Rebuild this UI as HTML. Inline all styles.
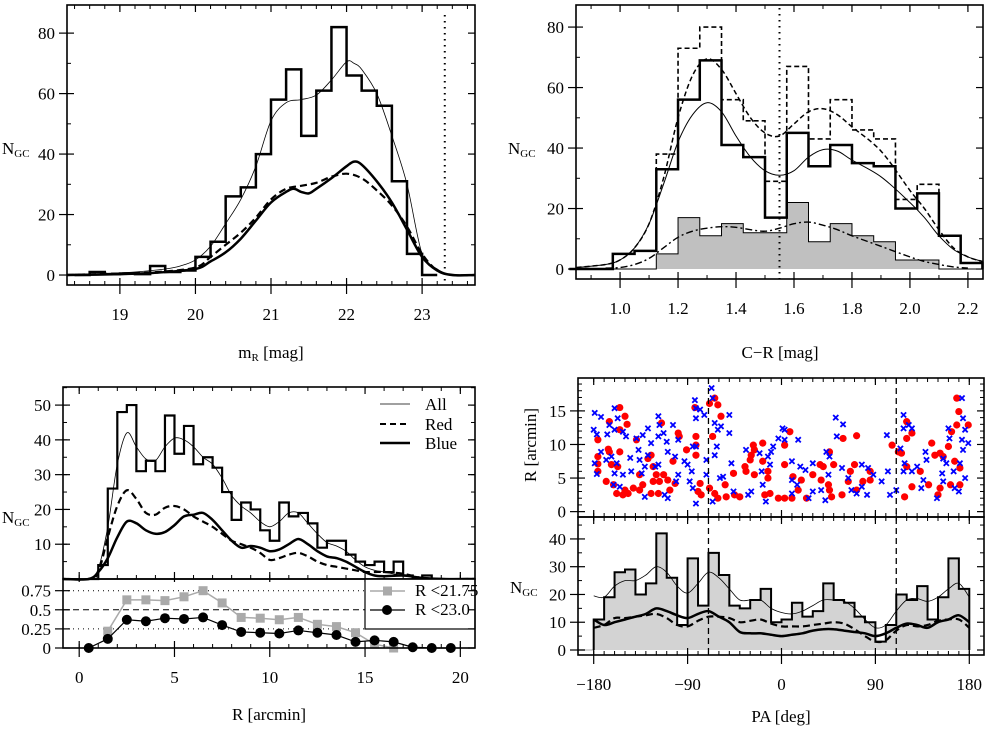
<!DOCTYPE html>
<html><head><meta charset="utf-8">
<style>
html,body{margin:0;padding:0;background:#fff;}
svg text{font-family:"Liberation Serif",serif;font-size:17px;fill:#000;}
</style></head>
<body>
<svg id="fig" width="985" height="728" viewBox="0 0 985 728" xmlns="http://www.w3.org/2000/svg">
<rect width="985" height="728" fill="#fff"/>
<text x="2" y="154">N<tspan font-size="11" dy="3">GC</tspan></text>
<text x="271" y="358" text-anchor="middle">m<tspan font-size="11" dy="3">R</tspan><tspan dy="-3"> [mag]</tspan></text>
<text x="508" y="154">N<tspan font-size="11" dy="3">GC</tspan></text>
<text x="780" y="358" text-anchor="middle">C−R [mag]</text>
<text x="2" y="523">N<tspan font-size="11" dy="3">GC</tspan></text>
<text x="269" y="720" text-anchor="middle">R [arcmin]</text>
<text x="0" y="0" text-anchor="middle" transform="translate(536,445) rotate(-90)">R [arcmin]</text>
<text x="510" y="593">N<tspan font-size="11" dy="3">GC</tspan></text>
<text x="781" y="722" text-anchor="middle">PA [deg]</text>
<g>
<line x1="380" y1="404" x2="410" y2="404" stroke="#000" stroke-width="0.8"/>
<text x="425" y="410">All</text>
<line x1="380" y1="424" x2="410" y2="424" stroke="#000" stroke-width="2" stroke-dasharray="6,4"/>
<text x="425" y="430">Red</text>
<line x1="380" y1="443" x2="410" y2="443" stroke="#000" stroke-width="2.5"/>
<text x="425" y="449">Blue</text>
</g>
</svg>
<script>
var svg=document.getElementById('fig');
var NS='http://www.w3.org/2000/svg';
function nm(el,n){


}
function add(tag,attrs,parent){var e=document.createElementNS(NS,tag);for(var k in attrs)e.setAttribute(k,attrs[k]);(parent||svg).appendChild(e);return e;}
function catmull(p){if(p.length<2)return '';var d='M'+p[0][0].toFixed(1)+','+p[0][1].toFixed(1);for(var i=0;i<p.length-1;i++){var p0=p[i-1]||p[i],p1=p[i],p2=p[i+1],p3=p[i+2]||p2;var c1x=p1[0]+(p2[0]-p0[0])/6,c1y=p1[1]+(p2[1]-p0[1])/6,c2x=p2[0]-(p3[0]-p1[0])/6,c2y=p2[1]-(p3[1]-p1[1])/6;d+=' C'+c1x.toFixed(1)+','+c1y.toFixed(1)+' '+c2x.toFixed(1)+','+c2y.toFixed(1)+' '+p2[0].toFixed(1)+','+p2[1].toFixed(1);}return d;}
function axis(px0,px1,py0,py1,xmin,xmax,ymin,ymax){return {px0:px0,px1:px1,py0:py0,py1:py1,sx:function(v){return px0+(v-xmin)/(xmax-xmin)*(px1-px0);},sy:function(v){return py0-(v-ymin)/(ymax-ymin)*(py0-py1);}};}
function curve(ax,xs,ys,style,name){var p=xs.map(function(x,i){return [ax.sx(x),ax.sy(ys[i])];});var e=add('path',Object.assign({d:catmull(p),fill:'none',stroke:'#000'},style));nm(e,name);return e;}
function hist(ax,edges,vals,style,name){var d='M'+ax.sx(edges[0])+','+ax.sy(0);for(var i=0;i<vals.length;i++){d+=' L'+ax.sx(edges[i])+','+ax.sy(vals[i])+' L'+ax.sx(edges[i+1])+','+ax.sy(vals[i]);}d+=' L'+ax.sx(edges[vals.length])+','+ax.sy(0);var e=add('path',Object.assign({d:d,stroke:'#000'},style));nm(e,name);return e;}
function edgesFrom(start,w,n){var r=[];for(var i=0;i<=n;i++)r.push(start+w*i);return r;}
function frame(ax,name){var e=add('rect',{x:ax.px0,y:ax.py1,width:ax.px1-ax.px0,height:ax.py0-ax.py1,fill:'none',stroke:'#000','stroke-width':1.6});nm(e,name);}
function xticks(ax,ticks,minor,labels,name,showLab,top){
ticks.forEach(function(t,i){var x=ax.sx(t);var e=add('line',{x1:x,x2:x,y1:ax.py0-7,y2:ax.py0+(showLab?9:3),stroke:'#000','stroke-width':1.2});nm(e,name+'-major-tick');
if(top!==false){var e2=add('line',{x1:x,x2:x,y1:ax.py1,y2:ax.py1+7,stroke:'#000','stroke-width':1.2});nm(e2,name+'-top-tick');}
if(showLab){var tx=add('text',{x:x,y:ax.py0+35,'text-anchor':'middle'});tx.textContent=labels[i];nm(tx,name+'-tick-label');}});
minor.forEach(function(t){var x=ax.sx(t);var e=add('line',{x1:x,x2:x,y1:ax.py0-4,y2:ax.py0,stroke:'#000','stroke-width':1});nm(e,name+'-minor-tick');if(top!==false){var e2=add('line',{x1:x,x2:x,y1:ax.py1,y2:ax.py1+4,stroke:'#000','stroke-width':1});nm(e2,name+'-top-minor-tick');}});}
function yticks(ax,ticks,minor,labels,name){
ticks.forEach(function(t,i){var y=ax.sy(t);var e=add('line',{x1:ax.px0-8,x2:ax.px0+7,y1:y,y2:y,stroke:'#000','stroke-width':1.2});nm(e,name+'-major-tick');var e2=add('line',{x1:ax.px1-7,x2:ax.px1,y1:y,y2:y,stroke:'#000','stroke-width':1.2});nm(e2,name+'-right-tick');
var tx=add('text',{x:ax.px0-12,y:y+6,'text-anchor':'end'});tx.textContent=labels[i];nm(tx,name+'-tick-label');});
minor.forEach(function(t){var y=ax.sy(t);var e=add('line',{x1:ax.px0,x2:ax.px0+4,y1:y,y2:y,stroke:'#000','stroke-width':1});nm(e,name+'-minor-tick');var e2=add('line',{x1:ax.px1-4,x2:ax.px1,y1:y,y2:y,stroke:'#000','stroke-width':1});nm(e2,name+'-right-minor-tick');});}
function range(a,b,s){var r=[];for(var v=a;v<=b+1e-9;v+=s)r.push(Math.round(v*1000)/1000);return r;}
</script>

<script>
// ===== Panel 1: magnitude distribution =====
var p1Edges=edgesFrom(18.4,0.2,24);
var p1Counts=[0,1,0.3,0.5,0.3,3,1,1.5,6,11,26,29,40,58,68,46,61,82,66,61,56,31,7,0];
var p1AllX=[18.3,18.8,19.2,19.6,19.8,20.0,20.2,20.4,20.6,20.8,21.0,21.2,21.4,21.6,21.8,22.0,22.1,22.2,22.4,22.6,22.8,23.0,23.2,23.35,23.5,23.7];
var p1AllY=[0,0.5,1,2,3,5,9.5,17,25,36,51,57,58,59.5,64.5,70.5,70,68,60,46,30,7,2,0.3,0,0];
var p1BlueX=[18.3,19.0,19.5,20.0,20.2,20.4,20.6,20.8,21.0,21.2,21.3,21.4,21.5,21.6,21.8,22.0,22.1,22.2,22.4,22.6,22.8,23.0,23.2,23.4,23.7];
var p1BlueY=[0,0.3,0.8,2,4.5,7.5,12,18,24,27.5,28.5,27.5,27,28.5,32,36,37.5,36.5,31,24,15,6,1.5,0,0];
var p1RedX=[18.3,19.0,19.5,20.0,20.2,20.4,20.6,20.8,21.0,21.2,21.4,21.6,21.8,22.0,22.2,22.4,22.6,22.8,23.0,23.2,23.4,23.7];
var p1RedY=[0,0.5,1,2.5,6,10,14,19,25,28.5,29.5,30.5,32.5,33.5,32,28,23,16,7,1.5,0,0];
var p1XTicks=[19,20,21,22,23];
var p1XLabels=['19','20','21','22','23'];
var p1YTicks=[0,20,40,60,80];
var p1YLabels=['0','20','40','60','80'];
var p1Limit=23.3;
(function(){var ax=axis(67,475,285,5,18.3,23.7,-3.3,89.3);
hist(ax,p1Edges,p1Counts,{fill:'none','stroke-width':2.5},'p1-histogram');
curve(ax,p1AllX,p1AllY,{'stroke-width':0.8},'p1-all-curve');
curve(ax,p1RedX,p1RedY,{'stroke-width':2.2,'stroke-dasharray':'7,4'},'p1-red-curve');
curve(ax,p1BlueX,p1BlueY,{'stroke-width':2.5},'p1-blue-curve');
var l=add('line',{x1:ax.sx(p1Limit),x2:ax.sx(p1Limit),y1:ax.py1+10,y2:ax.py0,stroke:'#000','stroke-width':2,'stroke-dasharray':'1.5,4.5'});nm(l,'p1-limit-line');
frame(ax,'p1-frame');
xticks(ax,p1XTicks,range(18.4,23.6,0.2),p1XLabels,'p1-x',true);
yticks(ax,p1YTicks,range(10,80,20),p1YLabels,'p1-y');})();

// ===== Panel 2: colour distribution =====
var p2Edges=edgesFrom(0.825,0.075,19);
var p2Solid=[0,0,5,6,33,56,69,41,37,17,45,34,41,35,34,20,25,11,2];
var p2Dashed=[0,0,5,6,38,73,80,56,49,29,67,43,56,46,43,23,28,11,2];
var p2Gray=[0,0,0,0,5,17,11,15,12,12,22,9,15,11,9,3,3,0,0];
var p2X=[0.85,0.95,1.0,1.05,1.1,1.15,1.2,1.25,1.3,1.35,1.4,1.45,1.5,1.55,1.6,1.65,1.7,1.75,1.8,1.9,2.0,2.05,2.1,2.15,2.2,2.25];
var p2FitSolid=[0.5,1.5,3,7,15,28,42,51,55,52,44,37,32.5,31,32.5,37,39.5,39,36,30.5,22,17,11,6.5,4,2.5];
var p2FitDashed=[0.5,1.5,3,7,15,30,50,64,69.5,66,58,50,45,44,48,52,53,51,47,39,26,20,13,7,4,2.5];
var p2DdX=[0.95,1.0,1.05,1.1,1.15,1.2,1.25,1.3,1.35,1.4,1.45,1.5,1.55,1.6,1.65,1.7,1.75,1.8,1.9,2.0,2.05,2.1,2.15,2.2];
var p2FitGray=[0.3,0.5,1.5,3.5,7,10.5,12.5,13.5,14,13.8,13,12.5,13.5,15,15.5,14.5,13,11,7.5,4,2.5,1.5,0.7,0.3];
var p2XTicks=[1.0,1.2,1.4,1.6,1.8,2.0,2.2];
var p2XLabels=['1.0','1.2','1.4','1.6','1.8','2.0','2.2'];
var p2YTicks=[0,20,40,60,80];
var p2YLabels=['0','20','40','60','80'];
var p2Divide=1.55;
(function(){var ax=axis(576,983,279,5,0.848,2.252,-3.3,87.3);
hist(ax,p2Edges,p2Gray,{fill:'#c0c0c0','stroke-width':1},'p2-gray-histogram');
hist(ax,p2Edges,p2Dashed,{fill:'none','stroke-width':1.6,'stroke-dasharray':'5,3'},'p2-dashed-histogram');
hist(ax,p2Edges,p2Solid,{fill:'none','stroke-width':2.5},'p2-solid-histogram');
curve(ax,p2X,p2FitSolid,{'stroke-width':1},'p2-fit-solid');
curve(ax,p2X,p2FitDashed,{'stroke-width':1.5,'stroke-dasharray':'5,3'},'p2-fit-dashed');
curve(ax,p2DdX,p2FitGray,{'stroke-width':1.4,'stroke-dasharray':'7,3,2,3'},'p2-fit-dashdot');
var l=add('line',{x1:ax.sx(p2Divide),x2:ax.sx(p2Divide),y1:ax.py1+3,y2:ax.py0,stroke:'#000','stroke-width':2,'stroke-dasharray':'1.5,4.5'});nm(l,'p2-divide-line');
frame(ax,'p2-frame');
xticks(ax,p2XTicks,range(0.9,2.2,0.1),p2XLabels,'p2-x',true);
yticks(ax,p2YTicks,range(10,80,20),p2YLabels,'p2-y');})();

// ===== Panel 3: radial distribution =====
var p3Edges=edgesFrom(0.5,0.5,36);
var p3Counts=[0,4,26,48,50,31,34,31,47,36,44,33,35,32,25,17,22,20,14,11,22,18,19,16,9,11,11,7,5,4,5,2,5,1,0,1];
var p3X=[-0.85,0.5,1.0,1.5,2.0,2.5,3.0,3.5,4.0,4.5,5.0,5.5,6.0,6.5,7.0,7.5,8.0,8.5,9.0,9.5,10.0,10.5,11.0,11.5,12.0,12.5,13.0,13.5,14.0,14.5,15.0,15.5,16.0,17.0,18.0,19.0,20.77];
var p3All=[0,0,3,15,33,42,38,34.5,34,38,40.5,40,38,35,33,29,24,21,19,16.5,15,16.5,19,19,16,13,10.5,9.5,8,5.5,3.5,2.5,2,1,0.5,0.2,0];
var p3Red=[0,0,2,12,21,25.5,23,19,18.5,20.5,21,20,18,16.5,15,13,11,10,9,7.5,5.5,6,7,7.5,6.5,5,4,3.5,3,2.5,2,2,2,1.5,0.3,0,0];
var p3Blue=[0,0,2,6,12,16.5,16,14,13,13.5,15.5,18,18.5,19,17,14,11,9,9.5,9,8,8.5,10,11.5,10,8,6.5,6,5,3.5,2,1,0.8,1,0.3,0,0];
var p3FracX=[1.5,2.5,3.5,4.5,5.5,6.5,7.5,8.5,9.5,10.5,11.5,12.5,13.5,14.5,15.5,16.5];
var p3FracBright=[0.22,0.63,0.63,0.62,0.67,0.75,0.59,0.40,0.39,0.37,0.40,0.31,0.28,0.20,0.05,0.0];
var p3CircX=[0.5,1.5,2.5,3.5,4.5,5.5,6.5,7.5,8.5,9.5,10.5,11.5,12.5,13.5,14.5,15.5,16.5,17.5,18.5,19.5];
var p3FracAll=[0.0,0.12,0.37,0.35,0.39,0.38,0.40,0.30,0.21,0.20,0.19,0.23,0.20,0.17,0.08,0.10,0.08,0.01,0.0,0.0];
var p3XTicks=[0,5,10,15,20];
var p3XLabels=['0','5','10','15','20'];
var p3YTicks=[10,20,30,40,50];
var p3YLabels=['10','20','30','40','50'];
var p3FTicks=[0,0.25,0.5,0.75];
var p3FLabels=['0','0.25','0.5','0.75'];
(function(){var ax=axis(63,475,579,387,-0.85,20.77,0,55.2);
var bx=axis(63,475,648,579,-0.85,20.77,0,0.903);
hist(ax,p3Edges,p3Counts,{fill:'none','stroke-width':2.2},'p3-histogram');
curve(ax,p3X,p3All,{'stroke-width':0.8},'p3-all-curve');
curve(ax,p3X,p3Red,{'stroke-width':2.2,'stroke-dasharray':'7,4'},'p3-red-curve');
curve(ax,p3X,p3Blue,{'stroke-width':2.5},'p3-blue-curve');
frame(ax,'p3-upper-frame');
xticks(ax,p3XTicks,range(0,20,1),p3XLabels,'p3-upper-x',false);
yticks(ax,p3YTicks,range(5,55,5),p3YLabels,'p3-upper-y');
[[0.75,'1,4'],[0.5,'6,4'],[0.25,'1,4']].forEach(function(r){var l=add('line',{x1:bx.px0,x2:365,y1:bx.sy(r[0]),y2:bx.sy(r[0]),stroke:'#000','stroke-width':1,'stroke-dasharray':r[1]});nm(l,'p3-reference-line');});
var pb=p3FracX.map(function(x,i){return bx.sx(x)+','+bx.sy(p3FracBright[i]);}).join(' ');
var l1=add('polyline',{points:pb,fill:'none',stroke:'#aaa','stroke-width':1.5});nm(l1,'p3-bright-fraction-line');
p3FracX.forEach(function(x,i){var s=add('rect',{x:bx.sx(x)-4.5,y:bx.sy(p3FracBright[i])-4.5,width:9,height:9,fill:'#aaa'});nm(s,'p3-bright-fraction-point');});
var pa=p3CircX.map(function(x,i){return bx.sx(x)+','+bx.sy(p3FracAll[i]);}).join(' ');
var l2=add('polyline',{points:pa,fill:'none',stroke:'#000','stroke-width':1.2});nm(l2,'p3-all-fraction-line');
p3CircX.forEach(function(x,i){var c=add('circle',{cx:bx.sx(x),cy:bx.sy(p3FracAll[i]),r:5,fill:'#000'});nm(c,'p3-all-fraction-point');});
var lb=add('rect',{x:365,y:579,width:110,height:50,fill:'#fff',stroke:'#000','stroke-width':1.2});nm(lb,'p3-fraction-legend-box');
var g1=add('line',{x1:370,x2:405,y1:591,y2:591,stroke:'#aaa','stroke-width':1.5});nm(g1,'legend-bright-line');
var g2=add('rect',{x:383,y:586.5,width:9,height:9,fill:'#aaa'});nm(g2,'legend-bright-marker');
var t1=add('text',{x:415,y:596,'font-size':15});t1.textContent='R <21.75';nm(t1,'legend-bright-label');
var g3=add('line',{x1:370,x2:405,y1:610,y2:610,stroke:'#000','stroke-width':1.2});nm(g3,'legend-all-line');
var g4=add('circle',{cx:387,cy:610,r:5,fill:'#000'});nm(g4,'legend-all-marker');
var t2=add('text',{x:415,y:615,'font-size':15});t2.textContent='R <23.0';nm(t2,'legend-all-label');
frame(bx,'p3-lower-frame');
xticks(bx,p3XTicks,range(0,20,1),p3XLabels,'p3-x',true,false);
yticks(bx,p3FTicks,[],p3FLabels,'p3-lower-y');})();

// ===== Panel 4: azimuthal distribution =====
var p4Blue=[[-179,14.7],[-173,14.1],[-180,12.2],[-177,11.5],[-173,8.9],[-179,7.2],[-177,5.6],[-168,7.7],[-165,12.9],[-167,11.5],[-160,15.4],[-157,13.9],[-160,12.2],[-152,11.9],[-149,11.2],[-163,8.2],[-158,7.2],[-160,5.7],[-161,4.0],[-155,3.7],[-145,8.0],[-144,6.0],[-152,5.5],[-139,10.9],[-137,9.2],[-133,11.4],[-136,7.7],[-131,6.7],[-128,12.4],[-125,10.2],[-128,8.4],[-134,5.7],[-131,2.2],[-118,14.2],[-117,12.9],[-118,11.2],[-113,11.7],[-121,6.7],[-118,7.0],[-110,10.4],[-109,8.9],[-104,12.9],[-102,8.2],[-99,10.7],[-112,2.5],[-109,2.0],[-99,5.5],[-101,4.5],[-93,7.5],[-90,7.0],[-86,6.0],[-83,16.6],[-82,15.4],[-82,13.9],[-85,9.7],[-82,9.7],[-88,4.5],[-85,3.5],[-82,1.2],[-78,15.2],[-74,14.4],[-72,7.7],[-72,5.5],[-67,18.4],[-66,16.9],[-64,13.2],[-61,12.2],[-62,9.7],[-64,8.4],[-59,5.0],[-56,5.2],[-66,1.5],[-58,12.7],[-50,14.4],[-50,11.7],[-48,7.2],[-46,3.0],[-34,9.2],[-32,2.5],[-29,3.0],[-21,8.7],[-19,6.0],[-18,4.0],[-15,1.5],[-13,8.2],[-10,8.9],[-8,9.7],[-3,10.9],[1,12.4],[-11,7.0],[3,12.2],[3,10.7],[16,10.7],[10,7.5],[18,6.7],[23,6.2],[10,4.7],[15,4.0],[10,2.7],[30,7.2],[30,3.0],[26,2.0],[43,8.9],[46,8.2],[45,5.5],[38,3.2],[42,1.7],[52,14.0],[59,13.0],[53,11.2],[58,6.5],[64,5.0],[67,3.2],[72,2.7],[77,7.0],[77,3.7],[82,2.5],[83,6.5],[88,5.5],[96,4.5],[102,6.0],[101,11.4],[104,2.5],[110,3.2],[114,9.4],[117,14.4],[117,12.4],[122,12.9],[125,12.4],[118,7.2],[117,6.0],[125,6.0],[130,6.7],[138,8.9],[139,7.7],[136,4.7],[134,3.5],[149,2.0],[155,7.9],[154,5.7],[158,7.2],[155,4.5],[160,12.4],[161,10.9],[165,6.0],[166,3.5],[170,3.0],[173,16.9],[174,13.9],[173,10.7],[176,12.2],[174,9.2],[171,7.2],[176,5.0],[179,10.2]];
var p4Red=[[-155,15.5],[-165,13.4],[-150,14.2],[-148,13.0],[-155,12.2],[-176,10.7],[-166,9.3],[-165,8.9],[-176,8.2],[-176,7.1],[-176,6.0],[-163,7.0],[-155,8.9],[-157,6.7],[-168,4.5],[-161,4.0],[-158,2.7],[-150,3.2],[-147,2.7],[-142,3.5],[-152,2.5],[-139,10.7],[-136,5.5],[-133,4.0],[-136,3.2],[-128,7.9],[-125,8.4],[-123,6.7],[-120,5.5],[-117,4.5],[-123,4.5],[-113,5.5],[-115,13.2],[-118,2.7],[-125,2.7],[-107,3.2],[-109,4.7],[-104,7.5],[-99,11.7],[-98,11.2],[-102,4.2],[-91,9.2],[-82,11.2],[-82,9.9],[-82,8.4],[-83,15.5],[-80,3.0],[-77,2.5],[-78,4.2],[-69,16.1],[-64,16.9],[-61,15.9],[-58,14.2],[-66,11.2],[-69,3.5],[-64,2.7],[-61,2.0],[-54,4.0],[-53,2.2],[-46,5.7],[-45,2.5],[-40,2.2],[-35,6.7],[-34,6.0],[-30,7.7],[-29,8.4],[-26,9.2],[-27,9.9],[-26,5.5],[-18,10.2],[-18,7.5],[-13,6.0],[-13,5.0],[-16,2.5],[-11,2.7],[-3,2.0],[3,9.9],[8,11.9],[3,7.0],[11,5.2],[19,4.7],[16,3.2],[3,2.0],[10,2.0],[24,2.0],[30,5.5],[37,7.0],[40,6.7],[38,4.7],[46,8.9],[50,7.0],[45,4.0],[46,3.2],[48,2.2],[58,2.5],[59,10.9],[64,4.5],[66,6.0],[72,11.3],[70,7.0],[72,3.2],[78,4.5],[85,6.0],[85,4.7],[106,9.9],[112,8.9],[115,8.7],[120,10.9],[125,11.7],[120,13.4],[120,6.7],[125,3.7],[118,2.2],[133,6.0],[141,4.0],[144,10.2],[147,8.4],[152,8.7],[155,8.2],[152,3.5],[150,2.5],[163,11.9],[168,12.9],[160,9.7],[166,7.5],[162,4.0],[168,16.9],[170,14.9],[171,6.5],[171,4.0],[179,12.9]];
var p4Edges=edgesFrom(-180,10,36);
var p4Counts=[11,19,28,29,20,24,42,26,9,33,16,35,27,16,15,18,22,10,11,17,12,14,24,18,17,12,10,3,9,20,18,23,11,19,33,22];
var p4CX=[-180,-170,-160,-150,-140,-130,-120,-110,-100,-90,-80,-70,-60,-50,-40,-30,-20,-10,0,10,20,30,40,50,60,70,80,90,100,110,120,130,140,150,160,170,180];
var p4All=[19.5,19,23,25,25,27,30,28,23,20.5,24,28,26,22,18,18,18,15,13.5,13,14,16,18,18,17.5,15,11,8,9,14,18,18.5,17.5,19,22,24,19];
var p4BlueFit=[11,9,10,11,12,13,15,14,12.5,11.5,13,14,12,10,6.5,6,6,5.5,5,5.5,6,7,7.5,7.5,7,6.5,6,5,6,8,9.5,9,8,10,11,12.5,10];
var p4RedFit=[8,9,11.5,11.5,12,12.5,13,11.5,9,8.5,10.5,12,12,11.5,10,10.5,11,9.5,8.5,8.5,8.5,9,9.5,10,9.5,7.5,5,3,3.5,7,9,8.5,9,10.5,11,11,8];
var p4XTicks=[-180,-90,0,90,180];
var p4XLabels=['−180','−90','0','90','180'];
var p4RTicks=[0,5,10,15];
var p4RLabels=['0','5','10','15'];
var p4NTicks=[0,10,20,30,40];
var p4NLabels=['0','10','20','30','40'];
var p4Axes=[-70,110];
(function(){var ax=axis(578,984,517,378,-195.05,194.1,-0.8,19.9);
var bx=axis(578,984,655,517,-195.05,194.1,-1.8,47.9);
var bg=add('rect',{x:bx.px0,y:bx.sy(0)-1,width:bx.sx(-180)-bx.px0,height:2,fill:'#d3d3d3'});nm(bg,'p4-hist-edge-fill');
hist(bx,p4Edges,p4Counts,{fill:'#d3d3d3','stroke-width':2},'p4-histogram');
curve(bx,p4CX,p4All,{'stroke-width':0.8},'p4-all-curve');
curve(bx,p4CX,p4RedFit,{'stroke-width':2.2,'stroke-dasharray':'7,4'},'p4-red-curve');
curve(bx,p4CX,p4BlueFit,{'stroke-width':2.5},'p4-blue-curve');
p4Red.forEach(function(p){var c=add('circle',{cx:ax.sx(p[0]),cy:ax.sy(p[1]),r:3.6,fill:'#ff0000'});nm(c,'red-gc-point');});
p4Blue.forEach(function(p){var x=ax.sx(p[0]),y=ax.sy(p[1]),s=2.6;var e=add('path',{d:'M'+(x-s)+','+(y-s)+'L'+(x+s)+','+(y+s)+'M'+(x-s)+','+(y+s)+'L'+(x+s)+','+(y-s),stroke:'#0000ff','stroke-width':1.8});nm(e,'blue-gc-point');});
p4Axes.forEach(function(a){var l=add('line',{x1:ax.sx(a),x2:ax.sx(a),y1:ax.py1,y2:bx.py0,stroke:'#000','stroke-width':1.3,'stroke-dasharray':'6,4'});nm(l,'p4-axis-direction-line');});
frame(ax,'p4-upper-frame');frame(bx,'p4-lower-frame');
xticks(ax,p4XTicks,range(-180,180,10),p4XLabels,'p4-upper-x',false);
xticks(bx,p4XTicks,range(-180,180,10),p4XLabels,'p4-x',true);
yticks(ax,p4RTicks,range(1,19,1),p4RLabels,'p4-upper-y');
yticks(bx,p4NTicks,range(5,45,10),p4NLabels,'p4-lower-y');})();
</script>
</body></html>
